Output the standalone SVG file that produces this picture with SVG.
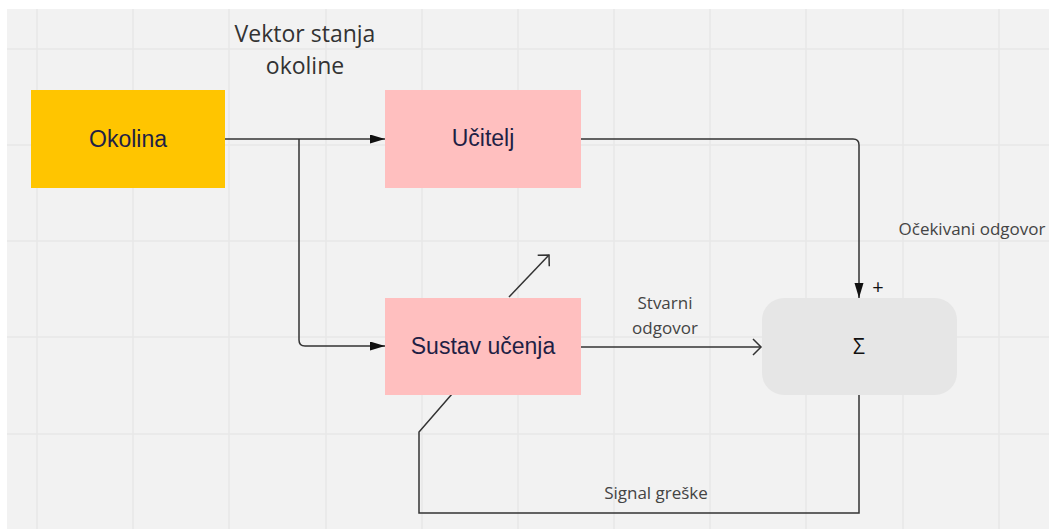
<svg xmlns="http://www.w3.org/2000/svg" width="1049" height="529" viewBox="0 0 1049 529">
<style>
.grid{stroke:#e7e7e7;stroke-width:1.5}
.box{font-family:"Liberation Sans",Arial,sans-serif;font-size:23px;fill:#1f1f45;text-anchor:middle}
.lbl{font-family:"Open Sans",sans-serif;font-size:17px;fill:#444;text-anchor:middle}
.conn{fill:none;stroke:#333;stroke-width:1.5}
</style>
<defs>
<marker id="fa" markerUnits="userSpaceOnUse" markerWidth="16" markerHeight="10" refX="15" refY="4.5" orient="auto">
<path d="M0,0 L15,4.5 L0,9 z" fill="#111"/>
</marker>
<marker id="oa" markerUnits="userSpaceOnUse" markerWidth="12" markerHeight="18" refX="10" refY="9" orient="auto">
<path d="M2,1 L10,9 L2,17" fill="none" stroke="#333" stroke-width="1.5"/>
</marker>
</defs>
<rect width="1049" height="529" fill="#ffffff"/>
<rect x="7" y="9" width="1042" height="520" fill="#f2f2f2"/>
<g id="grid">
<line class="grid" x1="37" y1="9" x2="37" y2="529"/>
<line class="grid" x1="133" y1="9" x2="133" y2="529"/>
<line class="grid" x1="229" y1="9" x2="229" y2="529"/>
<line class="grid" x1="326" y1="9" x2="326" y2="529"/>
<line class="grid" x1="422" y1="9" x2="422" y2="529"/>
<line class="grid" x1="518" y1="9" x2="518" y2="529"/>
<line class="grid" x1="614" y1="9" x2="614" y2="529"/>
<line class="grid" x1="710" y1="9" x2="710" y2="529"/>
<line class="grid" x1="806" y1="9" x2="806" y2="529"/>
<line class="grid" x1="903" y1="9" x2="903" y2="529"/>
<line class="grid" x1="999" y1="9" x2="999" y2="529"/>
<line class="grid" x1="7" y1="49" x2="1049" y2="49"/>
<line class="grid" x1="7" y1="145" x2="1049" y2="145"/>
<line class="grid" x1="7" y1="241" x2="1049" y2="241"/>
<line class="grid" x1="7" y1="337" x2="1049" y2="337"/>
<line class="grid" x1="7" y1="434" x2="1049" y2="434"/>
</g>
<g id="connectors">
<path class="conn" d="M225,139 H385" marker-end="url(#fa)"/>
<path class="conn" d="M299,139 V340 Q299,346 305,346 H385" marker-end="url(#fa)"/>
<path class="conn" d="M581,139 H853 Q859,139 859,145 V298" marker-end="url(#fa)"/>
<path class="conn" d="M581,347 H761" marker-end="url(#oa)"/>
<path class="conn" d="M859,395 V513 H419 V432 L452,394"/>
<path class="conn" d="M509,297 L549,255" marker-end="url(#oa)"/>
</g>
<g id="okolina">
<rect x="31" y="90" width="194" height="98" fill="#ffc500"/>
<text class="box" x="128" y="147">Okolina</text>
</g>
<g id="ucitelj">
<rect x="385" y="90" width="196" height="98" fill="#ffbfbf"/>
<text class="box" x="483" y="146">Učitelj</text>
</g>
<g id="sustav">
<rect x="385" y="298" width="196" height="97" fill="#ffbfbf"/>
<text class="box" x="483" y="354">Sustav učenja</text>
</g>
<g id="sigma">
<rect x="762" y="298" width="195" height="97" rx="22" ry="22" fill="#e6e6e6"/>
<text class="lbl" x="859" y="354" style="fill:#111;font-size:21px">Σ</text>
</g>
<g id="labels">
<text class="lbl" x="305" y="42" style="font-size:23px;fill:#333">Vektor stanja</text>
<text class="lbl" x="305" y="74" style="font-size:23px;fill:#333">okoline</text>
<text class="lbl" x="878" y="294" style="fill:#111;font-size:20px">+</text>
<text class="lbl" x="972" y="235">Očekivani odgovor</text>
<text class="lbl" x="665" y="309">Stvarni</text>
<text class="lbl" x="665" y="334">odgovor</text>
<text class="lbl" x="656" y="499">Signal greške</text>
</g>
</svg>
